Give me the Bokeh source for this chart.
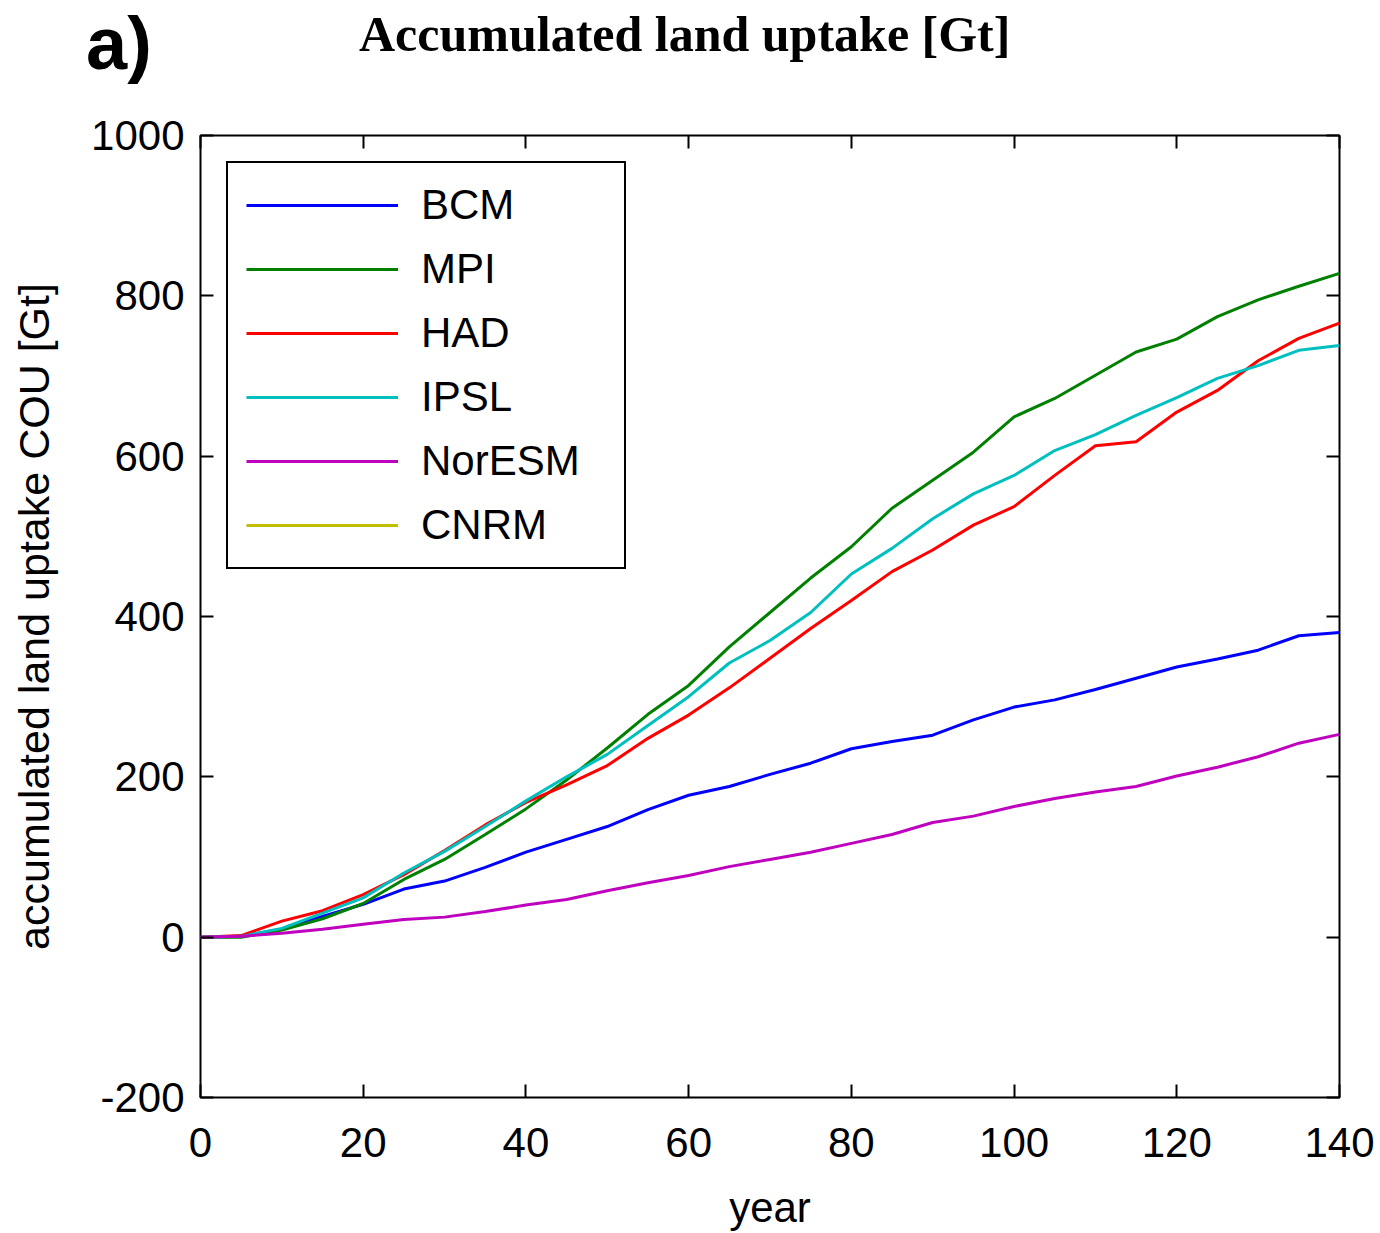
from bokeh.plotting import figure
from bokeh.layouts import column
from bokeh.models import (ColumnDataSource, Legend, LegendItem, LinearAxis,
                          FixedTicker, Range1d, Div)
from bokeh.embed import file_html
from bokeh.resources import INLINE

# Accumulated land carbon uptake per model, sampled every 5 years [Gt]
years = [0, 5, 10, 15, 20, 25, 30, 35, 40, 45, 50, 55, 60, 65, 70, 75, 80,
         85, 90, 95, 100, 105, 110, 115, 120, 125, 130, 135, 140]

bcm = [0, 1, 10, 26, 41, 60, 70, 87, 106, 122, 138, 159, 177, 188, 203, 217,
       235, 244, 252, 271, 287, 296, 309, 323, 337, 347, 358, 376, 380]
mpi = [0, 0, 9, 23, 42, 72, 97, 128, 160, 196, 236, 278, 314, 362, 405, 448,
       487, 535, 570, 605, 649, 672, 701, 730, 746, 774, 795, 812, 828]
had = [0, 2, 20, 33, 53, 78, 108, 140, 168, 190, 214, 248, 277, 311, 348, 385,
       420, 456, 483, 514, 537, 576, 613, 618, 655, 682, 719, 747, 766]
ipsl = [0, 1, 11, 30, 49, 80, 107, 138, 170, 200, 228, 264, 300, 342, 370, 405,
        453, 485, 522, 553, 576, 607, 627, 651, 673, 697, 713, 732, 738]
noresm = [0, 1, 5, 10, 16, 22, 25, 32, 40, 47, 58, 68, 77, 88, 97, 106, 117,
          128, 143, 151, 163, 173, 181, 188, 201, 212, 225, 242, 253]
# CNRM has no values in this run: one missing point keeps its legend entry
cnrm_years = [0]
cnrm = [float("nan")]

models = ["BCM", "MPI", "HAD", "IPSL", "NorESM", "CNRM"]
model_years = [years, years, years, years, years, cnrm_years]
series = [bcm, mpi, had, ipsl, noresm, cnrm]
colors = ["#0000ff", "#008000", "#ff0000", "#00bfbf", "#bf00bf", "#bfbf00"]

x_ticks = [0, 20, 40, 60, 80, 100, 120, 140]
y_ticks = [-200, 0, 200, 400, 600, 800, 1000]

SANS = "'Liberation Sans', Arial, sans-serif"
SERIF = "'Liberation Serif', 'Times New Roman', serif"

# ---- header strip with the panel letter and the title ----
header_html = (
    '<div style="position:relative;width:1380px;height:100px;margin:0;">'
    '<span style="position:absolute;left:86px;top:7px;line-height:1;'
    'white-space:nowrap;font-family:' + SANS + ';font-weight:bold;'
    'font-size:74px;color:#000;">a)</span>'
    '<span style="position:absolute;left:359px;top:9px;line-height:1;'
    'white-space:nowrap;font-family:' + SERIF + ';font-weight:bold;'
    'font-size:50px;color:#000;">Accumulated land uptake [Gt]</span>'
    '</div>'
)
head = Div(text=header_html, width=1380, height=100, margin=0)

# ---- main chart ----
p = figure(width=1380, height=1133, output_backend="svg", toolbar_location=None,
           x_range=Range1d(0, 140), y_range=Range1d(-200, 1000),
           min_border_left=200, min_border_right=41,
           min_border_top=35, min_border_bottom=135,
           x_axis_location=None, y_axis_location=None)
p.grid.visible = False
p.outline_line_color = "black"
p.outline_line_width = 2
p.background_fill_color = "white"
p.border_fill_color = "white"


def style_axis(ax, ticks, labels=True):
    ax.ticker = FixedTicker(ticks=ticks)
    ax.major_tick_in = 13
    ax.major_tick_out = 0
    ax.major_tick_line_width = 2
    ax.major_tick_line_color = "black"
    ax.minor_tick_line_color = None
    ax.axis_line_color = None
    if labels:
        ax.major_label_text_font = SANS
        ax.major_label_text_font_size = "42px"
        ax.major_label_text_color = "black"
    else:
        # tick marks only on the top and right edges
        ax.major_label_text_font_size = "1px"
        ax.major_label_text_color = None
        ax.major_label_standoff = 0


bottom = LinearAxis()
style_axis(bottom, x_ticks)
bottom.major_label_standoff = 30
bottom.axis_label = "year"
bottom.axis_label_text_font = SANS
bottom.axis_label_text_font_size = "42px"
bottom.axis_label_text_font_style = "normal"
bottom.axis_label_text_color = "black"
bottom.axis_label_standoff = 24
p.add_layout(bottom, "below")

left = LinearAxis()
style_axis(left, y_ticks)
left.major_label_standoff = 16
left.major_label_overrides = {-200: "-200"}
left.axis_label = "accumulated land uptake COU [Gt]"
left.axis_label_text_font = SANS
left.axis_label_text_font_size = "43px"
left.axis_label_text_font_style = "normal"
left.axis_label_text_color = "black"
left.axis_label_standoff = 30
p.add_layout(left, "left")

top = LinearAxis()
style_axis(top, x_ticks, labels=False)
p.add_layout(top, "above")

right = LinearAxis()
style_axis(right, y_ticks, labels=False)
p.add_layout(right, "right")

items = []
for name, xs, vals, col in zip(models, model_years, series, colors):
    src = ColumnDataSource(dict(x=xs, y=vals))
    r = p.line("x", "y", source=src, line_color=col, line_width=3)
    items.append(LegendItem(label=name, renderers=[r]))

legend = Legend(items=items, location=(26, 528),
                glyph_width=152, glyph_height=40,
                label_height=40, label_width=185, label_standoff=23,
                spacing=16, padding=18, margin=0,
                label_text_font=SANS, label_text_font_size="42px",
                label_text_color="black", label_text_baseline="middle",
                border_line_color="black", border_line_width=2,
                border_line_alpha=1.0,
                background_fill_color="white", background_fill_alpha=1.0)
p.add_layout(legend, "center")

open("out.html", "w").write(file_html(column(head, p, spacing=0), INLINE))
